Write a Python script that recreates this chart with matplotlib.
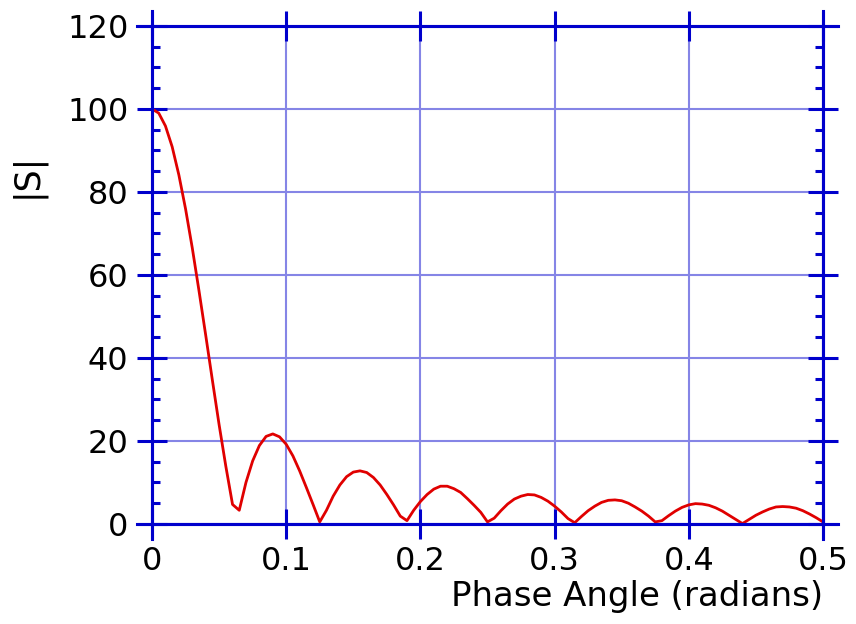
import matplotlib
matplotlib.use("Agg")
import matplotlib.pyplot as plt
from matplotlib.lines import Line2D
from matplotlib.ticker import MultipleLocator

# phase angle samples (radians) and |S| values
phase = [0.000, 0.005, 0.010, 0.015, 0.020, 0.025, 0.030, 0.035, 0.040, 0.045,
         0.050, 0.055, 0.060, 0.065, 0.070, 0.075, 0.080, 0.085, 0.090, 0.095,
         0.100, 0.105, 0.110, 0.115, 0.120, 0.125, 0.130, 0.135, 0.140, 0.145,
         0.150, 0.155, 0.160, 0.165, 0.170, 0.175, 0.180, 0.185, 0.190, 0.195,
         0.200, 0.205, 0.210, 0.215, 0.220, 0.225, 0.230, 0.235, 0.240, 0.245,
         0.250, 0.255, 0.260, 0.265, 0.270, 0.275, 0.280, 0.285, 0.290, 0.295,
         0.300, 0.305, 0.310, 0.315, 0.320, 0.325, 0.330, 0.335, 0.340, 0.345,
         0.350, 0.355, 0.360, 0.365, 0.370, 0.375, 0.380, 0.385, 0.390, 0.395,
         0.400, 0.405, 0.410, 0.415, 0.420, 0.425, 0.430, 0.435, 0.440, 0.445,
         0.450, 0.455, 0.460, 0.465, 0.470, 0.475, 0.480, 0.485, 0.490, 0.495,
         0.500]
s_abs = [100.0, 99.0, 95.9, 90.9, 84.1, 75.9, 66.5, 56.2, 45.5, 34.6,
         23.9, 13.9, 4.7, 3.3, 10.0, 15.2, 18.9, 21.1, 21.7, 21.0,
         19.2, 16.4, 12.8, 8.8, 4.7, 0.5, 3.3, 6.7, 9.4, 11.4,
         12.5, 12.8, 12.4, 11.2, 9.4, 7.1, 4.6, 1.9, 0.8, 3.3,
         5.4, 7.1, 8.4, 9.1, 9.1, 8.5, 7.6, 6.1, 4.5, 2.8,
         0.5, 1.4, 3.2, 4.8, 6.0, 6.7, 7.1, 7.0, 6.4, 5.5,
         4.3, 2.9, 1.3, 0.3, 1.8, 3.2, 4.3, 5.2, 5.7, 5.8,
         5.6, 5.0, 4.1, 3.1, 1.9, 0.5, 0.8, 2.0, 3.1, 4.0,
         4.6, 4.9, 4.8, 4.5, 3.9, 3.1, 2.1, 1.1, 0.1, 1.1,
         2.1, 2.9, 3.6, 4.1, 4.2, 4.1, 3.8, 3.2, 2.4, 1.5,
         0.5]
xtick_labels = ["0", "0.1", "0.2", "0.3", "0.4", "0.5"]

axis_col = "#0000cc"
grid_col = "#8585e6"
fs = 23

fig = plt.figure(figsize=(8.56, 6.24), dpi=100)
ax = fig.add_axes([0.1776, 0.1603, 0.7838, 0.7981])

ax.plot(phase, s_abs, color="#e00000", lw=2.0, zorder=2)

ax.set_xlim(0, 0.5)
ax.set_ylim(0, 120)
ax.set_xticks([0, 0.1, 0.2, 0.3, 0.4, 0.5])
ax.set_xticklabels(xtick_labels)
ax.yaxis.set_major_locator(MultipleLocator(20))
ax.yaxis.set_minor_locator(MultipleLocator(5))

ax.grid(True, which="major", color=grid_col, lw=1.5, zorder=0)
ax.set_axisbelow(True)

for sp in ax.spines.values():
    sp.set_color(axis_col)
    sp.set_linewidth(2.2)

ax.tick_params(which="major", direction="inout", length=22, width=2.2,
               color=axis_col, labelsize=fs, top=True, right=True, pad=6)
ax.tick_params(axis="y", which="minor", direction="in", length=6, width=2.2,
               color=axis_col, left=True, right=True)
ax.tick_params(axis="x", which="major", pad=5)

# axis lines run past the corners like the original
ex, ey = 15 / 671, 15 / 498
for xs, ys in [([-ex, 1 + ex], [0, 0]), ([-ex, 1 + ex], [1, 1]),
               ([0, 0], [-ey, 1 + ey]), ([1, 1], [-ey, 1 + ey])]:
    ax.add_line(Line2D(xs, ys, transform=ax.transAxes, color=axis_col,
                       lw=2.2, clip_on=False, zorder=3))

ax.set_xlabel("Phase Angle (radians)", fontsize=24.5, loc="right", labelpad=2)
ax.set_ylabel("|S|", fontsize=25)
ax.yaxis.set_label_coords(-0.16, 0.70)

fig.savefig("out.png", dpi=100)
